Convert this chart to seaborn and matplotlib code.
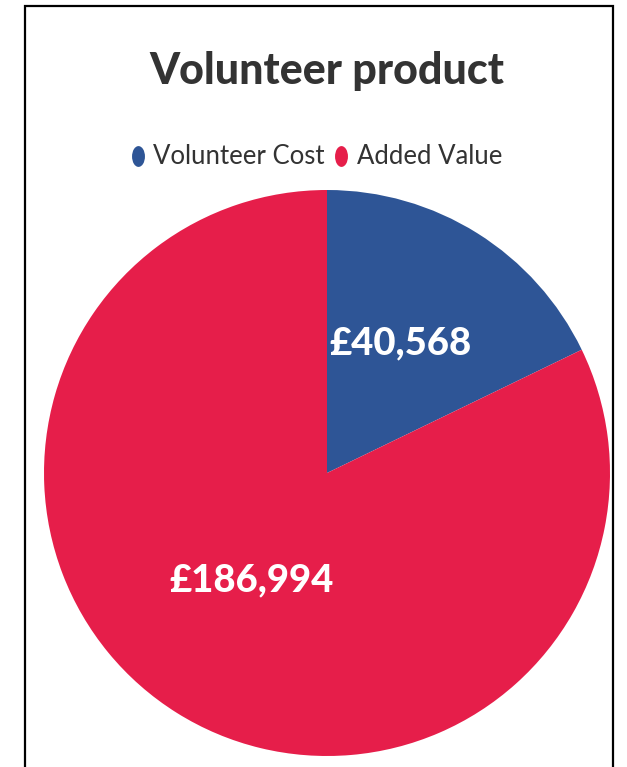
import matplotlib
matplotlib.use("Agg")
import matplotlib.pyplot as plt
import seaborn as sns
import numpy as np
from matplotlib.lines import Line2D
from matplotlib.patches import Rectangle
from matplotlib.path import Path
from matplotlib.transforms import Affine2D

categories = ["Volunteer Cost", "Added Value"]
values = [40568, 186994]
labels = ["£40,568", "£186,994"]
colors = ["#2E5596", "#E61E4A"]
title = "Volunteer product"

sns.set_theme(style="white")
plt.rcParams['font.family'] = ['Lato', 'DejaVu Sans']

W, H = 627, 767
fig = plt.figure(figsize=(W / 100, H / 100), dpi=100)
fig.patch.set_facecolor("white")

cx, cy, r = 327, 473, 283
ax = fig.add_axes([(cx - r) / W, (H - cy - r) / H, 2 * r / W, 2 * r / H])
wedges, texts = ax.pie(values, colors=colors, startangle=90, counterclock=False,
                       radius=1, wedgeprops=dict(linewidth=0))
ax.set_xlim(-1, 1)
ax.set_ylim(-1, 1)
ax.set_aspect("equal")
ax.axis("off")

total = sum(values)
ang = 90.0
dists = [0.53, 0.46]
for v, lab, d in zip(values, labels, dists):
    span = 360.0 * v / total
    mid = np.deg2rad(ang - span / 2)
    ax.text(d * np.cos(mid) - 0.022, d * np.sin(mid) + 0.01, lab, color="white",
            fontsize=27.5, fontweight="black", ha="center", va="center")
    ang -= span

fig.text(cx / W, 1 - 71 / H, title, ha="center", va="center",
         fontsize=31, fontweight="black", color="#333333")

oval = Path.unit_circle().transformed(Affine2D().scale(0.62, 1.0))
handles = [Line2D([], [], marker=oval, linestyle="none", markersize=15,
                  markerfacecolor=c, markeredgewidth=0) for c in colors]
fig.legend(handles, categories, loc="center", bbox_to_anchor=(316 / W, 1 - 157 / H),
           ncol=2, frameon=False, fontsize=18.5, handletextpad=0.3,
           columnspacing=0.35, labelcolor="#333333", handlelength=0.6,
           borderpad=0, borderaxespad=0)

frame = Rectangle((25 / W, -0.05), (613 - 25) / W, 1.05 - 6 / H, transform=fig.transFigure,
                  fill=False, edgecolor="black", linewidth=1.6, clip_on=False)
fig.add_artist(frame)

fig.savefig("out.png", dpi=100)
